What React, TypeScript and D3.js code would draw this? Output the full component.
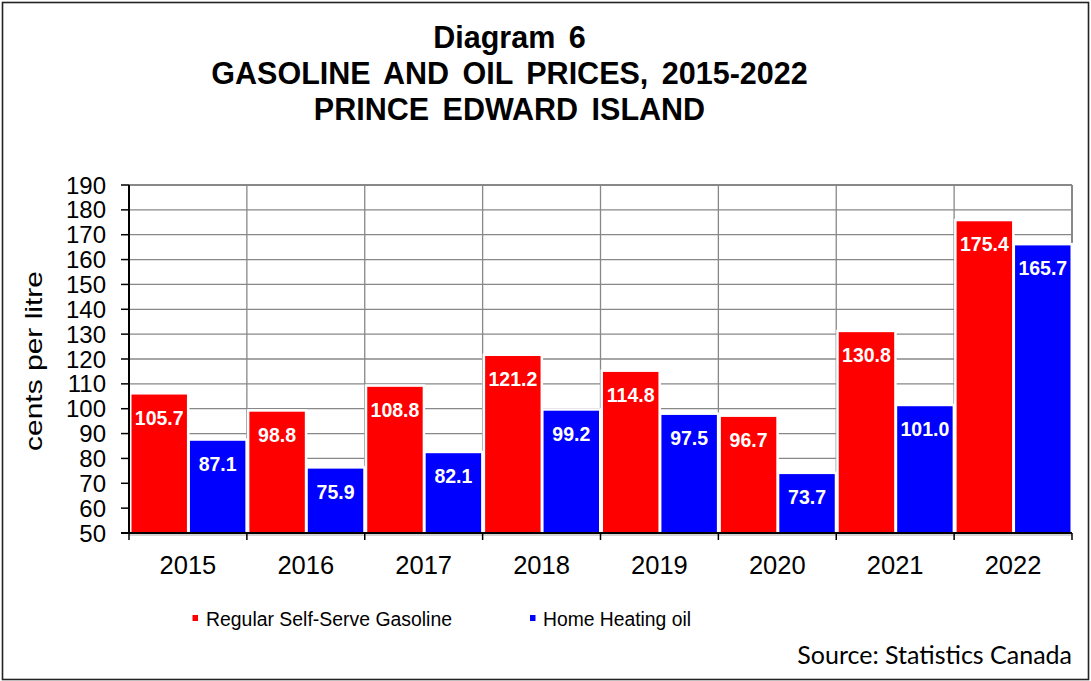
import React from "react";
import * as d3 from "d3";

const years = ["2015", "2016", "2017", "2018", "2019", "2020", "2021", "2022"];
const gasoline = [105.7, 98.8, 108.8, 121.2, 114.8, 96.7, 130.8, 175.4];
const heatingOil = [87.1, 75.9, 82.1, 99.2, 97.5, 73.7, 101.0, 165.7];
const seriesNames = ["Regular Self-Serve Gasoline", "Home Heating oil"];
const seriesColors = ["#ff0000", "#0000ff"];
const yTicks = [50, 60, 70, 80, 90, 100, 110, 120, 130, 140, 150, 160, 170, 180, 190];
const titleLines = ["Diagram 6", "GASOLINE AND OIL PRICES, 2015-2022", "PRINCE EDWARD ISLAND"];

const W = 1091;
const H = 681;
const plot = { left: 129, right: 1072, top: 185, bottom: 533 };

export default function App() {
  const x = d3.scaleBand<string>().domain(years).range([plot.left, plot.right]).padding(0);
  const sub = d3.scaleBand<number>().domain([0, 1]).range([0, x.bandwidth()]).padding(0);
  const y = d3.scaleLinear().domain([50, 190]).range([plot.bottom, plot.top]);
  const series = [gasoline, heatingOil];
  const font = "Arial, 'Liberation Sans', sans-serif";

  const bars: any[] = [];
  series.forEach((vals, si) => {
    vals.forEach((v, i) => {
      const bx = (x(years[i]) as number) + sub(si)! + (si === 0 ? 2.5 : 2);
      const bw = sub.bandwidth() - 3.5;
      const by = y(v);
      const bh = plot.bottom - by;
      bars.push({ bx, bw, by, bh, v, si, key: `${si}-${i}` });
    });
  });

  return (
    <svg width={W} height={H} style={{ position: "absolute", left: 0, top: 0, background: "#fff" }} fontFamily={font}>
      <rect x={0} y={0} width={W} height={H} fill="#fff" />
      <rect x={2.5} y={2.5} width={1086} height={677} fill="none" stroke="#222" strokeWidth={1.6} />

      {/* Title */}
      {titleLines.map((t, i) => (
        <text key={t} x={509.5} y={48 + i * 36} textAnchor="middle" fontWeight="bold" fontSize={30.5} wordSpacing={5} fill="#000">
          {t}
        </text>
      ))}

      {/* Horizontal gridlines */}
      {yTicks.map((t) => (
        <line key={"g" + t} x1={plot.left} x2={plot.right} y1={y(t)} y2={y(t)} stroke="#888" strokeWidth={t === 190 ? 2.2 : 1.3} />
      ))}
      {/* Vertical gridlines */}
      {years.map((yr, i) =>
        i === 0 ? null : (
          <line key={"v" + yr} x1={x(yr)} x2={x(yr)} y1={plot.top} y2={plot.bottom} stroke="#888" strokeWidth={1.3} />
        )
      )}
      <line x1={plot.right} x2={plot.right} y1={plot.top} y2={plot.bottom} stroke="#888" strokeWidth={2} />

      {/* Bars with white halos */}
      {bars.map((b) => (
        <rect key={"h" + b.key} x={b.bx - 2.5} y={b.by - 2.5} width={b.bw + 5} height={b.bh + 2.5} fill="#fff" />
      ))}
      {bars.map((b) => (
        <rect key={"b" + b.key} x={b.bx} y={b.by} width={b.bw} height={b.bh} fill={seriesColors[b.si]} />
      ))}
      {bars.map((b) => (
        <text key={"t" + b.key} x={b.bx + b.bw / 2} y={b.by + 30} textAnchor="middle" fontWeight="bold" fontSize={19.5} fill="#fff">
          {b.v.toFixed(1)}
        </text>
      ))}

      {/* Axes */}
      <line x1={plot.left} x2={plot.left} y1={plot.top} y2={plot.bottom} stroke="#000" strokeWidth={2} />
      <line x1={plot.left - 8} x2={plot.right} y1={plot.bottom} y2={plot.bottom} stroke="#000" strokeWidth={2} />
      <line x1={plot.left} x2={plot.right} y1={plot.bottom + 2} y2={plot.bottom + 2} stroke="#aaa" strokeWidth={1} />
      {yTicks.map((t) => (
        <g key={"yt" + t}>
          <line x1={plot.left - 8} x2={plot.left} y1={y(t)} y2={y(t)} stroke="#000" strokeWidth={1.5} />
          <text x={106} y={y(t) + 8.5} textAnchor="end" fontSize={24} fill="#000">
            {t}
          </text>
        </g>
      ))}
      {[...years.map((yr) => x(yr) as number), plot.right].map((px, i) => (
        <line key={"xt" + i} x1={px} x2={px} y1={plot.bottom} y2={plot.bottom + 7} stroke="#000" strokeWidth={1.5} />
      ))}
      {years.map((yr) => (
        <text key={"xl" + yr} x={(x(yr) as number) + x.bandwidth() / 2} y={574} textAnchor="middle" fontSize={25.5} fill="#000">
          {yr}
        </text>
      ))}

      <text transform={`translate(42,361) rotate(-90)`} textAnchor="middle" fontSize={24} fill="#000" textLength={180} lengthAdjust="spacingAndGlyphs">
        cents per litre
      </text>

      {/* Legend */}
      <rect x={192.5} y={615} width={5.5} height={6} fill={seriesColors[0]} />
      <text x={206} y={626} fontSize={19.5} fill="#000" textLength={246} lengthAdjust="spacingAndGlyphs">
        {seriesNames[0]}
      </text>
      <rect x={530} y={615} width={5.5} height={6} fill={seriesColors[1]} />
      <text x={543} y={626} fontSize={19.5} fill="#000" textLength={148} lengthAdjust="spacingAndGlyphs">
        {seriesNames[1]}
      </text>

      {/* Source */}
      <text x={1072} y={664} textAnchor="end" fontSize={25} fontFamily="Lato, 'Open Sans', sans-serif" fill="#000">
        Source: Statistics Canada
      </text>
    </svg>
  );
}
